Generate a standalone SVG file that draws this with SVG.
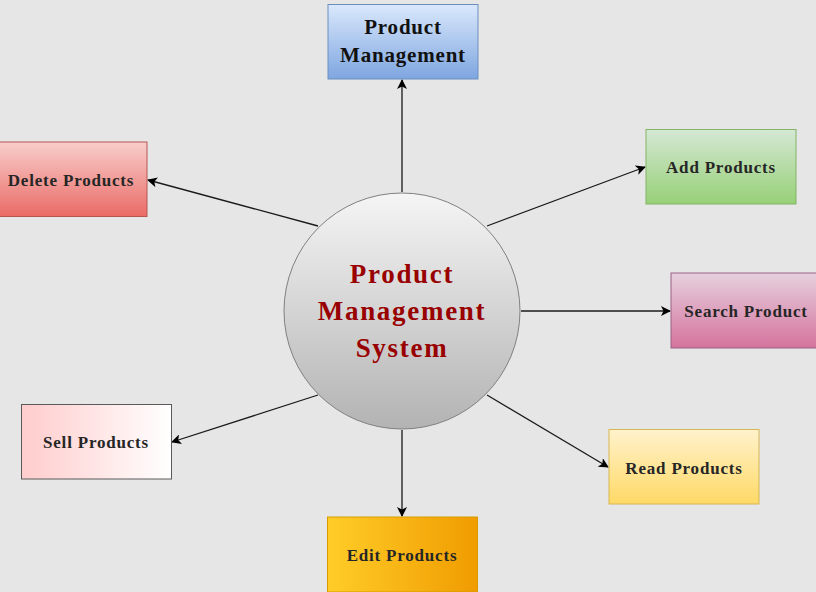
<svg xmlns="http://www.w3.org/2000/svg" width="816" height="592" viewBox="0 0 816 592">
<defs>
<linearGradient id="gBlue" x1="0" y1="0" x2="0" y2="1"><stop offset="0" stop-color="#dae8fc"/><stop offset="1" stop-color="#7ea6e0"/></linearGradient>
<linearGradient id="gRed" x1="0" y1="0" x2="0" y2="1"><stop offset="0" stop-color="#f8cecc"/><stop offset="1" stop-color="#ea6b66"/></linearGradient>
<linearGradient id="gGreen" x1="0" y1="0" x2="0" y2="1"><stop offset="0" stop-color="#d5e8d4"/><stop offset="1" stop-color="#97d077"/></linearGradient>
<linearGradient id="gPink" x1="0" y1="0" x2="0" y2="1"><stop offset="0" stop-color="#e6d0de"/><stop offset="1" stop-color="#d5739d"/></linearGradient>
<linearGradient id="gSell" x1="0" y1="0" x2="1" y2="0"><stop offset="0" stop-color="#ffcccc"/><stop offset="1" stop-color="#ffffff"/></linearGradient>
<linearGradient id="gEdit" x1="0" y1="0" x2="1" y2="0"><stop offset="0" stop-color="#ffcd28"/><stop offset="1" stop-color="#f09c00"/></linearGradient>
<linearGradient id="gRead" x1="0" y1="0" x2="0" y2="1"><stop offset="0" stop-color="#fff2cc"/><stop offset="1" stop-color="#ffd966"/></linearGradient>
<linearGradient id="gCircle" x1="0" y1="0" x2="0" y2="1"><stop offset="0" stop-color="#f5f5f5"/><stop offset="1" stop-color="#b3b3b3"/></linearGradient>
<marker id="arrow" viewBox="0 0 10 10" refX="9" refY="5" markerWidth="10" markerHeight="10" markerUnits="userSpaceOnUse" orient="auto">
<path d="M0,0 L10,5 L0,10 L2.5,5 Z" fill="#000"/>
</marker>
</defs>
<style>
.box{stroke-width:1}
.lbl{font-family:"Liberation Serif","Times New Roman",serif;font-weight:bold;font-size:17px;letter-spacing:0.8px;fill:#262626;text-anchor:middle;dominant-baseline:central}
.big{font-size:21px;letter-spacing:0.8px;fill:#111}
.center{font-family:"Liberation Serif","Times New Roman",serif;font-weight:bold;font-size:27px;letter-spacing:1.7px;fill:#990000;text-anchor:middle;dominant-baseline:central}
.edge{stroke:#1a1a1a;stroke-width:1.3;fill:none;marker-end:url(#arrow)}
</style>
<rect width="816" height="592" fill="#e6e6e6"/>
<g id="connectors">
<line class="edge" x1="402" y1="192" x2="402" y2="80"/>
<line class="edge" x1="318" y1="226" x2="148" y2="180"/>
<line class="edge" x1="487" y1="226" x2="645" y2="167"/>
<line class="edge" x1="521" y1="311" x2="670" y2="311"/>
<line class="edge" x1="318" y1="395" x2="172" y2="442"/>
<line class="edge" x1="402" y1="430" x2="402" y2="516"/>
<line class="edge" x1="487" y1="395" x2="608" y2="467"/>
</g>
<g id="node-center">
<circle cx="402" cy="311" r="118" fill="url(#gCircle)" stroke="#808080" stroke-width="1"/>
<text class="center" x="402" y="274">Product</text>
<text class="center" x="402" y="311">Management</text>
<text class="center" x="402" y="348">System</text>
</g>
<g id="node-product-management">
<rect class="box" x="328" y="4.5" width="150" height="74.5" fill="url(#gBlue)" stroke="#6c8ebf"/>
<text class="lbl big" x="403" y="27">Product</text>
<text class="lbl big" x="403" y="55">Management</text>
</g>
<g id="node-delete">
<rect class="box" x="-3" y="142" width="150" height="74.5" fill="url(#gRed)" stroke="#b85450"/>
<text class="lbl" x="71" y="180">Delete Products</text>
</g>
<g id="node-add">
<rect class="box" x="646" y="129.5" width="150" height="74.5" fill="url(#gGreen)" stroke="#82b366"/>
<text class="lbl" x="721" y="167">Add Products</text>
</g>
<g id="node-search">
<rect class="box" x="671" y="273" width="150" height="75" fill="url(#gPink)" stroke="#996185"/>
<text class="lbl" x="746" y="311">Search Product</text>
</g>
<g id="node-sell">
<rect class="box" x="21.5" y="404.5" width="150" height="74.5" fill="url(#gSell)" stroke="#5a5a5a"/>
<text class="lbl" x="96" y="442">Sell Products</text>
</g>
<g id="node-edit">
<rect class="box" x="327.5" y="517" width="150" height="75" fill="url(#gEdit)" stroke="#d79b00"/>
<text class="lbl" x="402" y="555">Edit Products</text>
</g>
<g id="node-read">
<rect class="box" x="609" y="429.5" width="150" height="74.5" fill="url(#gRead)" stroke="#d6b656"/>
<text class="lbl" x="684" y="468">Read Products</text>
</g>
</svg>
